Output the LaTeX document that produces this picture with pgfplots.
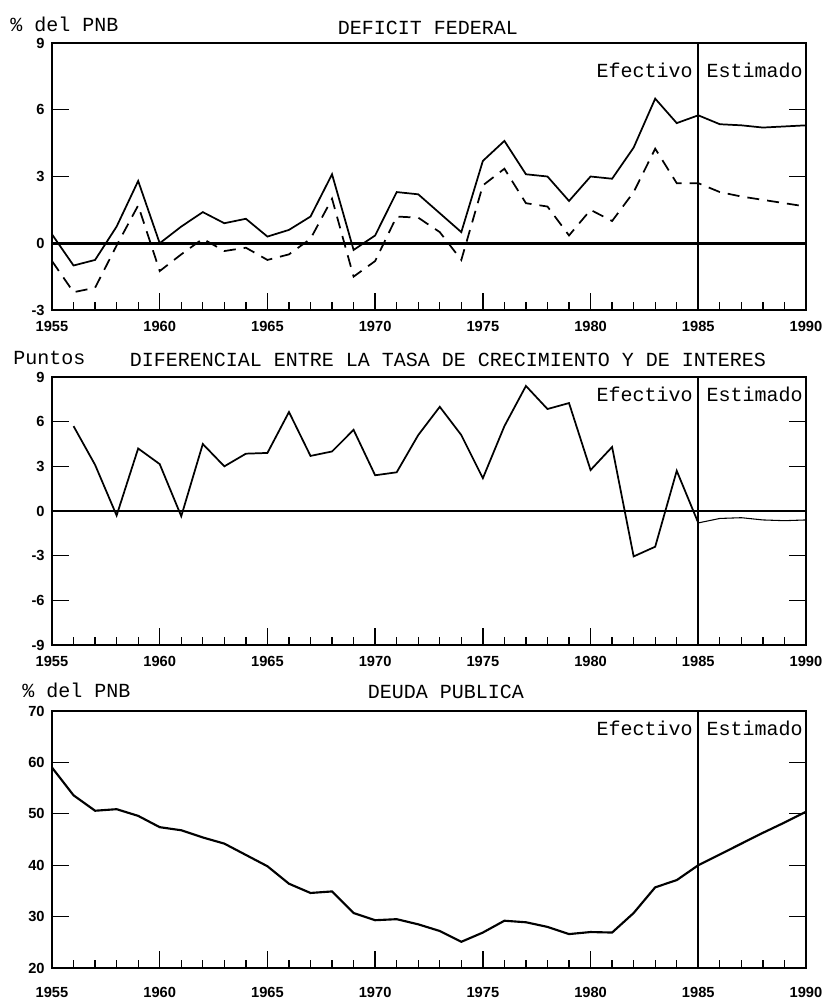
\documentclass[border=0pt]{standalone}
\usepackage{fontspec}
\setmainfont{Liberation Serif}
\newfontfamily\tw{Liberation Mono}
\newfontfamily\tk{Liberation Sans}
\usepackage{pgfplots}
\pgfplotsset{compat=1.18}
\pgfplotsset{
  panel/.style={
    scale only axis, width=565.5pt,
    xmin=1955, xmax=1990,
    xtick={1955,1960,...,1990}, minor x tick num=4,
    xtick pos=left, ytick pos=both, tick align=inside,
    major tick length=13pt, minor tick length=6pt,
    axis line style={line width=2pt},
    every tick/.style={line width=1pt, black},
    tick label style={font=\tk\bfseries\fontsize{11}{11}\selectfont},
    yticklabel style={xshift=-2pt},
    /pgf/number format/assume math mode=true,
    /pgf/number format/1000 sep={},
  },
}
\tikzset{
  ser/.style={line width=1.3pt, black},
  txt/.style={font=\tw\fontsize{15}{17}\selectfont, inner sep=0pt},
}
\begin{document}
\begin{tikzpicture}
\path[use as bounding box] (0,0) rectangle (618pt,-750.75pt);
% ---------- Panel 1 ----------
\begin{axis}[panel, at={(39pt,-32.25pt)}, anchor=north west, height=200.25pt,
  ymin=-3, ymax=9, ytick={-3,0,3,6,9},
  xticklabel style={yshift=-5pt}]
\addplot[line width=2.2pt, forget plot] coordinates {(1955,0) (1990,0)};
\addplot[line width=1.2pt, forget plot] coordinates {(1985,-3) (1985,9)};
\addplot[ser] coordinates {
(1955,0.4) (1956,-1.0) (1957,-0.75) (1958,0.75) (1959,2.8) (1960,0.0)
(1961,0.75) (1962,1.4) (1963,0.9) (1964,1.1) (1965,0.3) (1966,0.6)
(1967,1.2) (1968,3.1) (1969,-0.3) (1970,0.35) (1971,2.3) (1972,2.2)
(1973,1.35) (1974,0.5) (1975,3.7) (1976,4.6) (1977,3.1) (1978,3.0)
(1979,1.9) (1980,3.0) (1981,2.9) (1982,4.3) (1983,6.5) (1984,5.4)
(1985,5.75) (1986,5.35) (1987,5.3) (1988,5.2) (1989,5.25) (1990,5.3)};
\addplot[ser, dash pattern=on 9pt off 6pt] coordinates {
(1955,-0.8) (1956,-2.2) (1957,-2.0) (1958,-0.1) (1959,1.7) (1960,-1.25)
(1961,-0.5) (1962,0.2) (1963,-0.35) (1964,-0.2) (1965,-0.75) (1966,-0.5)
(1967,0.2) (1968,2.0) (1969,-1.5) (1970,-0.8) (1971,1.2) (1972,1.15)
(1973,0.5) (1974,-0.75) (1975,2.6) (1976,3.35) (1977,1.8) (1978,1.65)
(1979,0.35) (1980,1.5) (1981,1.0) (1982,2.3) (1983,4.25) (1984,2.7)
(1985,2.7) (1986,2.3) (1987,2.1) (1988,1.95) (1989,1.8) (1990,1.65)};
\node[txt, anchor=east] at (axis cs:1985,7.79) [xshift=-4pt] {Efectivo};
\node[txt, anchor=west] at (axis cs:1985,7.79) [xshift=6pt] {Estimado};
\end{axis}
% ---------- Panel 2 ----------
\begin{axis}[panel, at={(39pt,-282.75pt)}, anchor=north west, height=201pt,
  ymin=-9, ymax=9, ytick={-9,-6,-3,0,3,6,9},
  xticklabel style={yshift=-5pt}]
\addplot[line width=2.2pt, forget plot] coordinates {(1955,0) (1990,0)};
\addplot[line width=1.2pt, forget plot] coordinates {(1985,-9) (1985,9)};
\addplot[ser] coordinates {
(1956,5.7) (1957,3.1) (1958,-0.3) (1959,4.2) (1960,3.15) (1961,-0.35)
(1962,4.5) (1963,3.0) (1964,3.85) (1965,3.9) (1966,6.65) (1967,3.7)
(1968,4.0) (1969,5.45) (1970,2.4) (1971,2.6) (1972,5.1) (1973,7.0)
(1974,5.1) (1975,2.2) (1976,5.7) (1977,8.4) (1978,6.85) (1979,7.25)
(1980,2.75) (1981,4.3) (1982,-3.05) (1983,-2.4) (1984,2.7) (1985,-0.8)};
\addplot[line width=0.8pt, black] coordinates {
(1985,-0.8) (1986,-0.5) (1987,-0.45) (1988,-0.6) (1989,-0.65) (1990,-0.6)};
\node[txt, anchor=east] at (axis cs:1985,7.86) [xshift=-4pt] {Efectivo};
\node[txt, anchor=west] at (axis cs:1985,7.86) [xshift=6pt] {Estimado};
\end{axis}
% ---------- Panel 3 ----------
\begin{axis}[panel, at={(39pt,-533.25pt)}, anchor=north west, height=192.75pt,
  ymin=20, ymax=70, ytick={20,30,...,70},
  xticklabel style={yshift=-11pt}]
\addplot[line width=1.2pt, forget plot] coordinates {(1985,20) (1985,70)};
\addplot[ser, line width=1.6pt] coordinates {
(1955,59.0) (1956,53.6) (1957,50.6) (1958,50.9) (1959,49.6) (1960,47.4)
(1961,46.8) (1962,45.4) (1963,44.2) (1964,42.0) (1965,39.8) (1966,36.4)
(1967,34.6) (1968,34.9) (1969,30.7) (1970,29.3) (1971,29.5) (1972,28.5)
(1973,27.2) (1974,25.1) (1975,26.9) (1976,29.2) (1977,28.9) (1978,28.0)
(1979,26.6) (1980,27.0) (1981,26.9) (1982,30.7) (1983,35.7) (1984,37.1)
(1985,40.0) (1986,42.1) (1987,44.2) (1988,46.3) (1989,48.3) (1990,50.4)};
\node[txt, anchor=east] at (axis cs:1985,66.7) [xshift=-4pt] {Efectivo};
\node[txt, anchor=west] at (axis cs:1985,66.7) [xshift=6pt] {Estimado};
\end{axis}
% ---------- Titles ----------
\node[txt, anchor=base west] at (7.5pt,-23.25pt) {\%\ del PNB};
\node[txt, anchor=base] at (321pt,-25.5pt) {DEFICIT FEDERAL};
\node[txt, anchor=base west] at (9.75pt,-273pt) {Puntos};
\node[txt, anchor=base] at (336pt,-275pt) {DIFERENCIAL ENTRE LA TASA DE CRECIMIENTO Y DE INTERES};
\node[txt, anchor=base west] at (16.5pt,-522.75pt) {\%\ del PNB};
\node[txt, anchor=base] at (334.5pt,-523.5pt) {DEUDA PUBLICA};
\end{tikzpicture}
\end{document}
